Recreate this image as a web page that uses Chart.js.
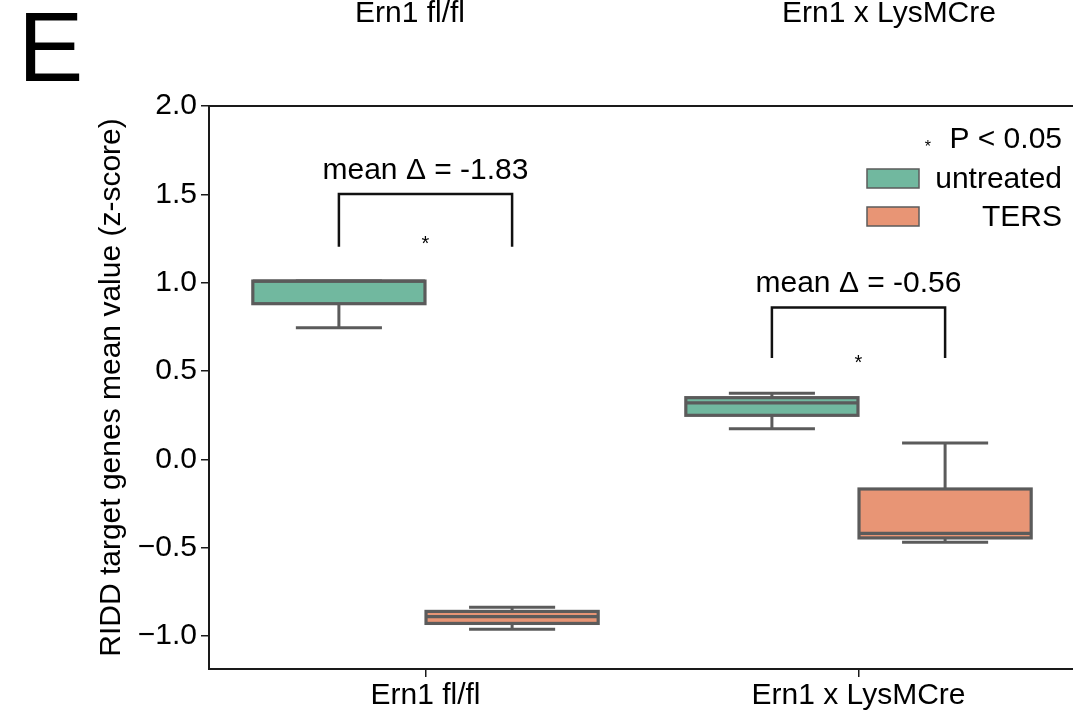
<!DOCTYPE html>
<html>
<head>
<meta charset="utf-8">
<script src="https://cdn.jsdelivr.net/npm/chart.js@4.4.1/dist/chart.umd.min.js"></script>
<style>
    body { margin: 0; background: #fff; overflow: hidden; width: 1073px; height: 714px; position: relative; }
    #wrap { position: absolute; left: 0; top: 0; width: 1100px; height: 714px; }
    .txt { position: absolute; font-family: 'Liberation Sans', Arial, sans-serif; color: #000; white-space: nowrap; }
    #panel { left: 18px; top: -2px; font-size: 98px; line-height: 98px; }
    .top-label { top: -3px; font-size: 30px; line-height: 30px; transform: translateX(-50%); }
</style>
</head>
<body>
<div id="wrap"><canvas id="chart"></canvas></div>
<div class="txt" id="panel">E</div>
<div class="txt top-label" style="left:410px">Ern1 fl/fl</div>
<div class="txt top-label" style="left:889px">Ern1 x LysMCre</div>
<script>
// Data
const categories = ['Ern1 fl/fl', 'Ern1 x LysMCre'];
const seriesNames = ['untreated', 'TERS'];

// boxes as [q1, q3]
const untreatedBox = [[0.881, 1.009], [0.249, 0.349]];
const tersBox = [[-0.929, -0.861], [-0.445, -0.168]];
const untreatedMedian = [1.009, 0.319];
const tersMedian = [-0.891, -0.419];
// whiskers as [low, high]
const untreatedWhisker = [[0.745, 1.009], [0.173, 0.374]];
const tersWhisker = [[-0.962, -0.838], [-0.470, 0.092]];

// significance brackets
const bracketTop = [1.502, 0.860];
const bracketBottom = [1.203, 0.573];
const starValue = [1.247, 0.574];
const deltaLabels = ['mean \u0394 = -1.83', 'mean \u0394 = -0.56'];

const yTicks = [-1, -0.5, 0, 0.5, 1, 1.5, 2];
const yTickLabels = ['\u22121.0', '\u22120.5', '0.0', '0.5', '1.0', '1.5', '2.0'];

const FONT = "'Liberation Sans', Arial, sans-serif";
const teal = '#71b89f';
const orange = '#e89575';
const edge = '#5b5b5b';
const axisColor = '#1a1a1a';

const whiskers = [untreatedWhisker, tersWhisker];
const boxes = [untreatedBox, tersBox];
const medians = [untreatedMedian, tersMedian];

function line(ctx, x1, y1, x2, y2) {
    ctx.beginPath();
    ctx.moveTo(x1, y1);
    ctx.lineTo(x2, y2);
    ctx.stroke();
}

const boxExtras = {
    id: 'boxExtras',
    beforeDatasetsDraw(chart) {
        const ctx = chart.ctx;
        const y = chart.scales.y;
        ctx.save();
        ctx.strokeStyle = edge;
        ctx.lineWidth = 3;
        whiskers.forEach((ws, d) => {
            chart.getDatasetMeta(d).data.forEach((el, i) => {
                const [lo, hi] = ws[i];
                const [q1, q3] = boxes[d][i];
                const cap = el.width / 4;
                line(ctx, el.x, y.getPixelForValue(q3), el.x, y.getPixelForValue(hi));
                line(ctx, el.x, y.getPixelForValue(q1), el.x, y.getPixelForValue(lo));
                line(ctx, el.x - cap, y.getPixelForValue(hi), el.x + cap, y.getPixelForValue(hi));
                line(ctx, el.x - cap, y.getPixelForValue(lo), el.x + cap, y.getPixelForValue(lo));
            });
        });
        ctx.restore();
    },
    afterDatasetsDraw(chart) {
        const ctx = chart.ctx;
        const y = chart.scales.y;
        const area = chart.chartArea;
        ctx.save();

        // box outlines centred on the edges, plus medians
        ctx.strokeStyle = edge;
        ctx.lineWidth = 3.2;
        boxes.forEach((bs, d) => {
            chart.getDatasetMeta(d).data.forEach((el, i) => {
                const top = y.getPixelForValue(bs[i][1]);
                const bot = y.getPixelForValue(bs[i][0]);
                ctx.strokeRect(el.x - el.width / 2, top, el.width, bot - top);
                const py = y.getPixelForValue(medians[d][i]);
                line(ctx, el.x - el.width / 2, py, el.x + el.width / 2, py);
            });
        });

        // top spine
        ctx.strokeStyle = axisColor;
        ctx.lineWidth = 2;
        line(ctx, area.left - 1, area.top, area.right, area.top);

        // brackets
        const m0 = chart.getDatasetMeta(0).data;
        const m1 = chart.getDatasetMeta(1).data;
        ctx.strokeStyle = '#111';
        ctx.lineWidth = 2.5;
        ctx.fillStyle = '#000';
        categories.forEach((c, i) => {
            const xa = m0[i].x, xb = m1[i].x;
            const yt = y.getPixelForValue(bracketTop[i]);
            const yb = y.getPixelForValue(bracketBottom[i]);
            ctx.beginPath();
            ctx.moveTo(xa, yb);
            ctx.lineTo(xa, yt);
            ctx.lineTo(xb, yt);
            ctx.lineTo(xb, yb);
            ctx.stroke();
            ctx.font = '30px ' + FONT;
            ctx.textAlign = 'center';
            ctx.textBaseline = 'alphabetic';
            ctx.fillText(deltaLabels[i], (xa + xb) / 2, yt - 15);
            ctx.font = '20px ' + FONT;
            ctx.fillText('*', (xa + xb) / 2, y.getPixelForValue(starValue[i]) + 11);
        });

        // legend
        ctx.textAlign = 'right';
        ctx.font = '16px ' + FONT;
        ctx.fillText('*', 931, 152);
        ctx.font = '30px ' + FONT;
        ctx.fillText('P < 0.05', 1062, 148);
        const patches = [[teal, 169, 188], [orange, 207, 226]];
        patches.forEach(([col, top, base], k) => {
            ctx.fillStyle = col;
            ctx.fillRect(867, top, 52, 19);
            ctx.strokeStyle = edge;
            ctx.lineWidth = 1.5;
            ctx.strokeRect(867, top, 52, 19);
            ctx.fillStyle = '#000';
            ctx.fillText(seriesNames[k], 1062, base);
        });
        ctx.restore();
    }
};

new Chart(document.getElementById('chart'), {
    type: 'bar',
    data: {
        labels: categories,
        datasets: [
            { label: seriesNames[0], data: untreatedBox, backgroundColor: teal, borderWidth: 0 },
            { label: seriesNames[1], data: tersBox, backgroundColor: orange, borderWidth: 0 }
        ]
    },
    options: {
        responsive: true,
        maintainAspectRatio: false,
        animation: false,
        events: [],
        layout: { padding: { top: 106, right: 25, left: 0, bottom: 0 } },
        datasets: { bar: { categoryPercentage: 0.8, barPercentage: 0.994 } },
        plugins: { legend: { display: false }, tooltip: { enabled: false } },
        scales: {
            x: {
                offset: true,
                grid: { display: true, drawOnChartArea: false, drawTicks: true, tickLength: 8, offset: false, color: axisColor, lineWidth: 1.5 },
                border: { display: true, color: axisColor, width: 2 },
                ticks: { font: { family: FONT, size: 30 }, color: '#000', padding: 1, maxRotation: 0 },
                afterFit(s) { s.height = 45; }
            },
            y: {
                min: -1.187,
                max: 2.0,
                afterBuildTicks(s) { s.ticks = yTicks.map(v => ({ value: v })); },
                grid: { display: true, drawOnChartArea: false, drawTicks: true, tickLength: 8, color: axisColor, lineWidth: 1.5 },
                border: { display: true, color: axisColor, width: 2 },
                ticks: {
                    font: { family: FONT, size: 30 },
                    color: '#000',
                    padding: 4,
                    callback: (v, i) => yTickLabels[i]
                },
                title: {
                    display: true,
                    text: 'RIDD target genes mean value (z-score)',
                    font: { family: FONT, size: 30 },
                    color: '#000',
                    padding: { top: 94, bottom: 0 }
                },
                afterFit(s) { s.width = 209; }
            }
        }
    },
    plugins: [boxExtras]
});
</script>
</body>
</html>
